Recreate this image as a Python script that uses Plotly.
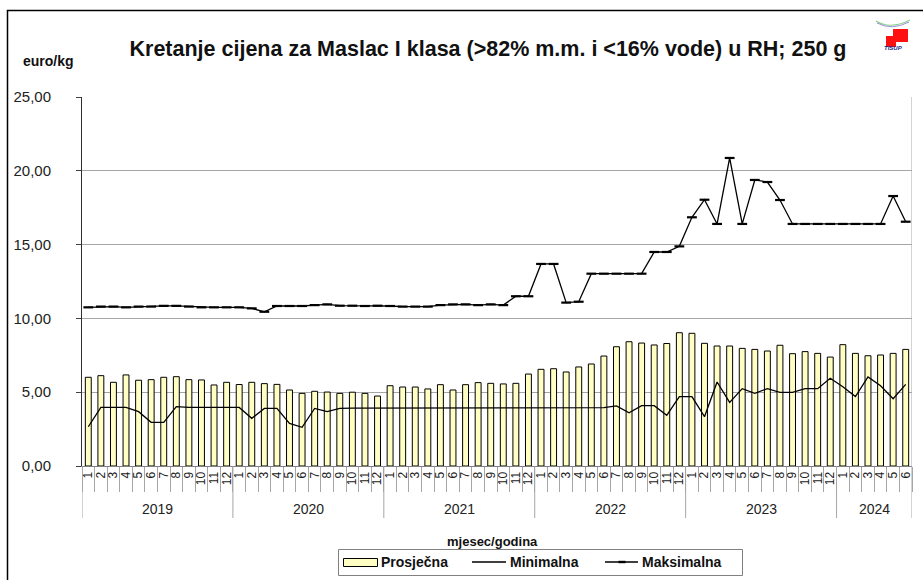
import plotly.graph_objects as go

years = ["2019", "2020", "2021", "2022", "2023", "2024"]
months_per_year = [12, 12, 12, 12, 12, 6]

prosjecna = [
    6.01, 6.12, 5.67, 6.17, 5.81, 5.85, 6.01, 6.05, 5.85, 5.83, 5.49, 5.67,
    5.52, 5.67, 5.58, 5.53, 5.15, 4.92, 5.06, 5.01, 4.92, 5.00, 4.92, 4.74,
    5.44, 5.35, 5.35, 5.22, 5.51, 5.15, 5.51, 5.65, 5.60, 5.56, 5.60, 6.23,
    6.55, 6.59, 6.37, 6.71, 6.91, 7.45, 8.08, 8.42, 8.33, 8.20, 8.30, 9.03,
    8.99, 8.31, 8.13, 8.13, 7.97, 7.90, 7.79, 8.18, 7.61, 7.75, 7.63, 7.38,
    8.22, 7.63, 7.47, 7.52, 7.63, 7.90,
]
minimalna = [
    2.66, 3.97, 3.97, 3.97, 3.68, 2.96, 2.96, 4.02, 3.97, 3.97, 3.97, 3.97,
    3.97, 3.23, 3.90, 3.90, 2.89, 2.62, 3.90, 3.68, 3.90, 3.92, 3.92, 3.92,
    3.93, 3.93, 3.93, 3.93, 3.94, 3.94, 3.94, 3.94, 3.94, 3.94, 3.94, 3.94,
    3.93, 3.93, 3.91, 3.93, 3.93, 3.95, 4.07, 3.61, 4.09, 4.09, 3.43, 4.70,
    4.70, 3.34, 5.69, 4.31, 5.24, 4.92, 5.24, 4.99, 4.99, 5.24, 5.24, 5.94,
    5.37, 4.70, 6.03, 5.44, 4.56, 5.53,
]
maksimalna = [
    10.75, 10.80, 10.80, 10.75, 10.80, 10.80, 10.85, 10.85, 10.80, 10.75, 10.75, 10.75,
    10.75, 10.68, 10.45, 10.84, 10.84, 10.84, 10.90, 10.95, 10.86, 10.86, 10.84, 10.86,
    10.84, 10.80, 10.80, 10.80, 10.90, 10.95, 10.95, 10.90, 10.95, 10.90, 11.50, 11.50,
    13.69, 13.69, 11.07, 11.13, 13.03, 13.03, 13.03, 13.03, 13.03, 14.50, 14.50, 14.88,
    16.85, 18.04, 16.40, 20.87, 16.40, 19.38, 19.24, 18.02, 16.40, 16.40, 16.40, 16.40,
    16.40, 16.40, 16.40, 16.40, 18.29, 16.55,
]
series_names = ["Prosječna", "Minimalna", "Maksimalna"]

month_labels = []
for n in months_per_year:
    month_labels += [str(m) for m in range(1, n + 1)]
x = list(range(1, len(month_labels) + 1))

FONT = "Liberation Sans, Arial, sans-serif"
GRID = "#a6a6a6"
BAR_FILL = "#ffffc4"

# pixel geometry helpers
W, H = 923, 580
L, R, T, B = 82, 11, 97, 114
PW, PH = W - L - R, H - T - B
def px_x(p):
    return (p - L) / PW
def px_y(p):
    return (H - B - p) / PH

fig = go.Figure()
fig.add_trace(go.Bar(
    x=x, y=prosjecna, name=series_names[0], width=0.47,
    marker=dict(color=BAR_FILL, line=dict(color="black", width=1)),
))
fig.add_trace(go.Scatter(
    x=x, y=minimalna, name=series_names[1], mode="lines",
    line=dict(color="black", width=1.3),
))
fig.add_trace(go.Scatter(
    x=x, y=maksimalna, name=series_names[2], mode="lines+markers",
    line=dict(color="black", width=1.3),
    marker=dict(symbol="line-ew", size=7, color="black",
                line=dict(color="black", width=2.2)),
))

shapes = []
# year dividers
b = 0.5
bounds = [b]
for n in months_per_year:
    b += n
    bounds.append(b)
for bx in bounds:
    shapes.append(dict(type="line", xref="x", yref="paper", x0=bx, x1=bx,
                       y0=0, y1=px_y(518), line=dict(color=GRID, width=1)))
# right vertical line of plot area
shapes.append(dict(type="line", xref="x", yref="paper", x0=bounds[-1], x1=bounds[-1],
                   y0=0, y1=1, line=dict(color=GRID, width=1)))
# outer chart border
shapes.append(dict(type="rect", xref="paper", yref="paper",
                   x0=px_x(7.5), x1=px_x(930), y0=px_y(10.5), y1=px_y(590),
                   line=dict(color="black", width=1.5), fillcolor="rgba(0,0,0,0)"))
# small logo approximation
shapes.append(dict(type="path", xref="paper", yref="paper",
                   path="M %f,%f Q %f,%f %f,%f" % (px_x(876), px_y(21), px_x(890), px_y(30), px_x(910), px_y(20)),
                   line=dict(color="#8fd18f", width=1.2)))
shapes.append(dict(type="path", xref="paper", yref="paper",
                   path="M %f,%f Q %f,%f %f,%f" % (px_x(877), px_y(23), px_x(892), px_y(31), px_x(909), px_y(22)),
                   line=dict(color="#9a8fd8", width=1)))
shapes.append(dict(type="rect", xref="paper", yref="paper",
                   x0=px_x(893), x1=px_x(908), y0=px_y(29), y1=px_y(42),
                   line=dict(width=0), fillcolor="#ff1010"))
shapes.append(dict(type="rect", xref="paper", yref="paper",
                   x0=px_x(886), x1=px_x(896), y0=px_y(36), y1=px_y(47),
                   line=dict(width=0), fillcolor="#ff1010"))

# legend (drawn as shapes + text)
LEG_Y = 562
shapes.append(dict(type="rect", xref="paper", yref="paper",
                   x0=px_x(338.5), x1=px_x(742.5), y0=px_y(549.5), y1=px_y(575.5),
                   line=dict(color="#808080", width=1), fillcolor="white", layer="above"))
shapes.append(dict(type="rect", xref="paper", yref="paper",
                   x0=px_x(343.5), x1=px_x(377.5), y0=px_y(558.5), y1=px_y(566.5),
                   line=dict(color="black", width=1), fillcolor=BAR_FILL, layer="above"))
shapes.append(dict(type="line", xref="paper", yref="paper",
                   x0=px_x(472), x1=px_x(506), y0=px_y(LEG_Y), y1=px_y(LEG_Y),
                   line=dict(color="black", width=1.3), layer="above"))
shapes.append(dict(type="line", xref="paper", yref="paper",
                   x0=px_x(605), x1=px_x(638), y0=px_y(LEG_Y), y1=px_y(LEG_Y),
                   line=dict(color="black", width=1.3), layer="above"))
shapes.append(dict(type="line", xref="paper", yref="paper",
                   x0=px_x(618.5), x1=px_x(625.5), y0=px_y(LEG_Y), y1=px_y(LEG_Y),
                   line=dict(color="black", width=2.4), layer="above"))

annotations = []
for i, yr in enumerate(years):
    cx = (bounds[i] + bounds[i + 1]) / 2
    annotations.append(dict(x=cx, xref="x", y=px_y(509), yref="paper", text=yr,
                            showarrow=False, font=dict(family=FONT, size=14, color="#222"),
                            xanchor="center", yanchor="middle"))
for name, lx in zip(series_names, [379, 508, 640]):
    annotations.append(dict(x=px_x(lx), xref="paper", y=px_y(LEG_Y), yref="paper",
                            text="<b>%s</b>" % name, showarrow=False,
                            font=dict(family=FONT, size=14, color="#111"),
                            xanchor="left", yanchor="middle"))
annotations.append(dict(x=px_x(492), xref="paper", y=px_y(541), yref="paper",
                        text="<b>mjesec/godina</b>", showarrow=False,
                        font=dict(family=FONT, size=13, color="#111"),
                        xanchor="center", yanchor="middle"))
annotations.append(dict(x=px_x(48), xref="paper", y=px_y(61), yref="paper",
                        text="<b>euro/kg</b>", showarrow=False,
                        font=dict(family=FONT, size=14, color="#111"),
                        xanchor="center", yanchor="middle"))
annotations.append(dict(x=px_x(893), xref="paper", y=px_y(48), yref="paper",
                        text="<i><b>TISUP</b></i>", showarrow=False,
                        font=dict(family=FONT, size=6, color="#1a2a8a"),
                        xanchor="center", yanchor="middle"))

fig.update_layout(
    width=W, height=H,
    margin=dict(l=L, r=R, t=T, b=B, autoexpand=False),
    paper_bgcolor="white", plot_bgcolor="white",
    separators=", ",
    font=dict(family=FONT, color="#111"),
    title=dict(text="<b>Kretanje cijena za Maslac I klasa (>82% m.m. i <16% vode) u RH; 250 g</b>",
               x=488 / W, xanchor="center", y=1 - 48 / H, yanchor="middle",
               font=dict(family=FONT, size=21.5, color="#111")),
    showlegend=False,
    shapes=shapes,
    annotations=annotations,
)
fig.update_xaxes(
    range=[0.5, len(x) + 0.5],
    tickmode="array", tickvals=x, ticktext=month_labels, tickangle=-90,
    ticks="", tickfont=dict(family=FONT, size=12, color="#222"),
    showgrid=False, zeroline=False, automargin=False,
    showline=True, linecolor="#808080", linewidth=1,
    minor=dict(tickmode="array", tickvals=[v - 0.5 for v in x] + [len(x) + 0.5],
               ticks="outside", ticklen=25, tickcolor=GRID, tickwidth=1, showgrid=False),
)
fig.update_yaxes(
    range=[0, 25], tickmode="linear", tick0=0, dtick=5, tickformat=".2f",
    ticks="outside", ticklen=5, tickcolor="#404040",
    ticklabelstandoff=22, automargin=False,
    tickfont=dict(family=FONT, size=15, color="#222"),
    showgrid=True, gridcolor=GRID, gridwidth=1, zeroline=False,
    showline=True, linecolor="#303030", linewidth=1,
)

fig.write_html("out.html", config={"displayModeBar": False},
               post_script="document.body.style.margin='0px';")
